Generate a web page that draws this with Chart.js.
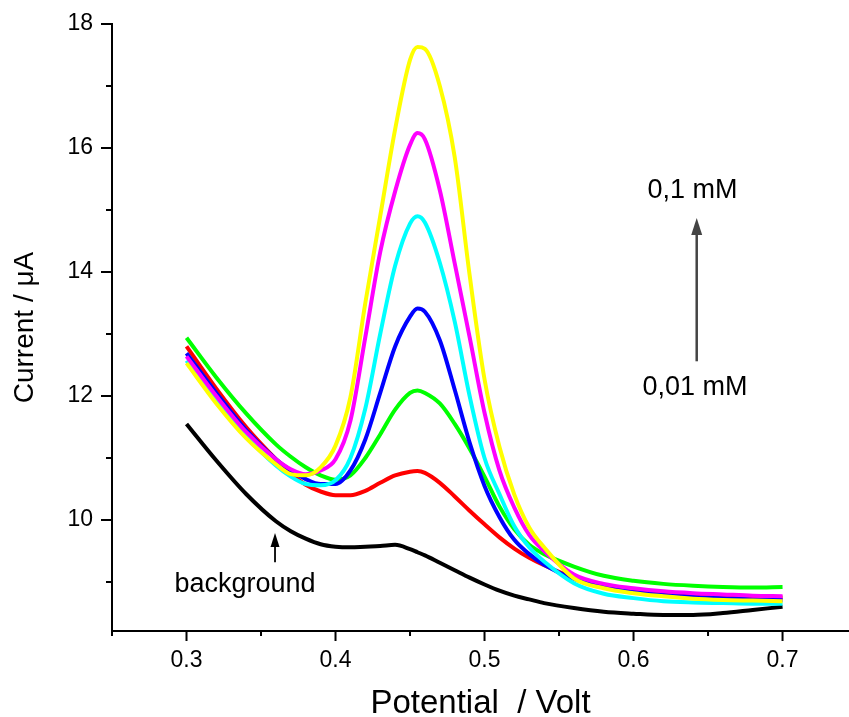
<!DOCTYPE html>
<html lang="en">
<head>
<meta charset="UTF-8" />
<script src="https://cdn.jsdelivr.net/npm/chart.js@4.4.0/dist/chart.umd.min.js"></script>
<style>
  html, body { margin: 0; padding: 0; background: #fff; }
  #wrap { width: 849px; height: 717px; }
</style>
</head>
<body>
<div id="wrap"><canvas id="Chart-dpv"></canvas></div>
<script>

// potential (V)
var potential = [0.30, 0.32, 0.34, 0.36, 0.37, 0.38, 0.39, 0.40, 0.41, 0.42, 0.43, 0.44, 0.45, 0.455, 0.46,
  0.47, 0.48, 0.49, 0.50, 0.51, 0.52, 0.53, 0.54, 0.56, 0.58, 0.60, 0.62, 0.64, 0.66, 0.68, 0.70];

// current (uA)
var background = [11.55, 10.96, 10.42, 9.98, 9.82, 9.70, 9.61, 9.57, 9.56, 9.57, 9.58, 9.60, 9.53, 9.48, 9.43,
  9.31, 9.19, 9.07, 8.96, 8.86, 8.78, 8.72, 8.66, 8.58, 8.52, 8.49, 8.47, 8.47, 8.50, 8.55, 8.60];
var curRed = [12.80, 12.12, 11.50, 10.98, 10.75, 10.57, 10.46, 10.40, 10.40, 10.47, 10.60, 10.72, 10.78, 10.79, 10.76,
  10.60, 10.38, 10.15, 9.93, 9.72, 9.54, 9.39, 9.27, 9.07, 8.94, 8.86, 8.81, 8.78, 8.76, 8.75, 8.75];
var curGreen = [12.94, 12.30, 11.72, 11.22, 11.02, 10.85, 10.72, 10.65, 10.72, 11.00, 11.38, 11.78, 12.05, 12.09, 12.05,
  11.88, 11.55, 11.15, 10.70, 10.22, 9.85, 9.60, 9.45, 9.25, 9.10, 9.02, 8.97, 8.94, 8.92, 8.91, 8.92];
var curBlue = [12.69, 12.05, 11.45, 10.98, 10.80, 10.66, 10.58, 10.58, 10.80, 11.30, 12.05, 12.80, 13.28, 13.41, 13.36,
  12.90, 12.10, 11.25, 10.55, 10.05, 9.68, 9.45, 9.28, 9.05, 8.92, 8.84, 8.79, 8.76, 8.74, 8.72, 8.71];
var curCyan = [12.57, 11.92, 11.35, 10.88, 10.70, 10.58, 10.56, 10.64, 11.00, 11.80, 13.00, 14.10, 14.78, 14.90, 14.80,
  14.15, 13.20, 12.00, 11.00, 10.42, 9.90, 9.56, 9.33, 8.98, 8.81, 8.74, 8.69, 8.67, 8.66, 8.65, 8.65];
var curMagenta = [12.64, 12.00, 11.42, 10.98, 10.82, 10.74, 10.80, 10.98, 11.60, 12.95, 14.32, 15.30, 16.05, 16.24, 16.14,
  15.32, 14.14, 12.95, 11.73, 10.80, 10.20, 9.76, 9.50, 9.12, 8.97, 8.90, 8.85, 8.82, 8.80, 8.78, 8.77];
var curYellow = [12.53, 11.88, 11.32, 10.90, 10.74, 10.72, 10.85, 11.20, 11.98, 13.50, 14.90, 16.30, 17.42, 17.63, 17.60,
  17.00, 15.85, 13.95, 12.27, 11.18, 10.41, 9.88, 9.56, 9.06, 8.90, 8.82, 8.77, 8.73, 8.71, 8.70, 8.69];

// ticks
var majorX = [0.3, 0.4, 0.5, 0.6, 0.7];
var minorX = [0.25, 0.35, 0.45, 0.55, 0.65];
var majorY = [10, 12, 14, 16, 18];
var minorY = [9, 11, 13, 15, 17];

// text labels and arrows (data coords)
var labelText = ["0,1 mM", "0,01 mM", "background"];
var labelX = [0.6396, 0.6413, 0.3393];
var labelY = [15.19, 12.02, 8.84];
var arrowX = [0.6424, 0.3594];
var arrowFrom = [12.56, 9.32];
var arrowTo = [14.87, 9.79];

function toPoints(ys) {
  return ys.map(function(v, i) { return {x: potential[i], y: v}; });
}

var series = [
  {label: "background", data: background, color: "#000000"},
  {label: "0,01 mM", data: curRed, color: "#ff0000"},
  {label: "c2", data: curGreen, color: "#00ff00"},
  {label: "c3", data: curBlue, color: "#0000ff"},
  {label: "c4", data: curCyan, color: "#00ffff"},
  {label: "c5", data: curMagenta, color: "#ff00ff"},
  {label: "0,1 mM", data: curYellow, color: "#ffff00"}
];

var FONT = "'Liberation Sans', Arial, sans-serif";

// 目盛り・注釈
var extrasPlugin = {
  id: "extras",
  afterDraw: function(chart) {
    var ctx = chart.ctx, xs = chart.scales.x, ys = chart.scales.y, a = chart.chartArea;
    ctx.save();
    ctx.strokeStyle = "#000";
    ctx.lineWidth = 2;
    ctx.beginPath();
    majorX.forEach(function(v) { var p = xs.getPixelForValue(v); ctx.moveTo(p, a.bottom); ctx.lineTo(p, a.bottom + 10); });
    minorX.forEach(function(v) { var p = xs.getPixelForValue(v); ctx.moveTo(p, a.bottom); ctx.lineTo(p, a.bottom + 5); });
    majorY.forEach(function(v) { var p = ys.getPixelForValue(v); ctx.moveTo(a.left, p); ctx.lineTo(a.left - 11, p); });
    minorY.forEach(function(v) { var p = ys.getPixelForValue(v); ctx.moveTo(a.left, p); ctx.lineTo(a.left - 6, p); });
    ctx.stroke();

    // arrows
    var arrowColor = ["#444444", "#000000"];
    var arrowW = [2.5, 1.8];
    var headL = [17, 14];
    var headW = [5.5, 4.5];
    for (var i = 0; i < arrowX.length; i++) {
      var px = xs.getPixelForValue(arrowX[i]);
      var y0 = ys.getPixelForValue(arrowFrom[i]);
      var y1 = ys.getPixelForValue(arrowTo[i]);
      ctx.strokeStyle = arrowColor[i];
      ctx.fillStyle = arrowColor[i];
      ctx.lineWidth = arrowW[i];
      ctx.beginPath();
      ctx.moveTo(px, y0);
      ctx.lineTo(px, y1 + headL[i] - 2);
      ctx.stroke();
      ctx.beginPath();
      ctx.moveTo(px, y1);
      ctx.lineTo(px - headW[i], y1 + headL[i]);
      ctx.lineTo(px + headW[i], y1 + headL[i]);
      ctx.closePath();
      ctx.fill();
    }

    ctx.fillStyle = "#000";
    ctx.font = "27px " + FONT;
    ctx.textAlign = "center";
    ctx.textBaseline = "alphabetic";
    for (var j = 0; j < labelText.length; j++) {
      ctx.fillText(labelText[j], xs.getPixelForValue(labelX[j]), ys.getPixelForValue(labelY[j]));
    }
    ctx.restore();
  }
};

var ctx = document.getElementById("Chart-dpv").getContext("2d");
var chart = new Chart(ctx, {
  type: "line",
  data: {
    datasets: series.map(function(s, i) {
      return {
        label: s.label,
        data: toPoints(s.data),
        borderColor: s.color,
        borderWidth: 4,
        pointRadius: 0,
        fill: false,
        cubicInterpolationMode: "monotone",
        order: series.length - i
      };
    })
  },
  options: {
    animation: false,
    responsive: true,
    maintainAspectRatio: false,
    layout: { padding: { top: 24, right: 0, bottom: 0, left: 0 } },
    plugins: {
      legend: { display: false },
      tooltip: { enabled: false }
    },
    scales: {
      x: {
        type: "linear",
        min: 0.25,
        max: 0.7446,
        // tick marks are drawn by the plugin; tickLength only spaces the labels
        grid: { display: false, drawTicks: true, tickLength: 16 },
        border: { display: true, color: "#000", width: 2 },
        afterBuildTicks: function(scale) {
          scale.ticks = majorX.map(function(v) { return {value: v}; });
        },
        afterFit: function(scale) { scale.height = 86; },
        ticks: {
          autoSkip: false,
          maxRotation: 0,
          padding: 0,
          color: "#000",
          font: { family: FONT, size: 23 },
          callback: function(value) { return value.toFixed(1); }
        },
        title: {
          display: true,
          text: "Potential  / Volt",
          color: "#000",
          font: { family: FONT, size: 33 },
          padding: { top: 0, bottom: -7 }
        }
      },
      y: {
        min: 8.21,
        max: 18,
        grid: { display: false, drawTicks: true, tickLength: 19 },
        border: { display: true, color: "#000", width: 2 },
        afterBuildTicks: function(scale) {
          scale.ticks = majorY.map(function(v) { return {value: v}; });
        },
        afterFit: function(scale) { scale.width = 112; },
        ticks: {
          autoSkip: false,
          padding: 0,
          color: "#000",
          font: { family: FONT, size: 23 },
          callback: function(value) { return String(value); }
        },
        title: {
          display: true,
          text: "Current / \u03BCA",
          color: "#000",
          font: { family: FONT, size: 28 },
          padding: { top: 8, bottom: 0 }
        }
      }
    }
  },
  plugins: [extrasPlugin]
});

</script>
</body>
</html>
